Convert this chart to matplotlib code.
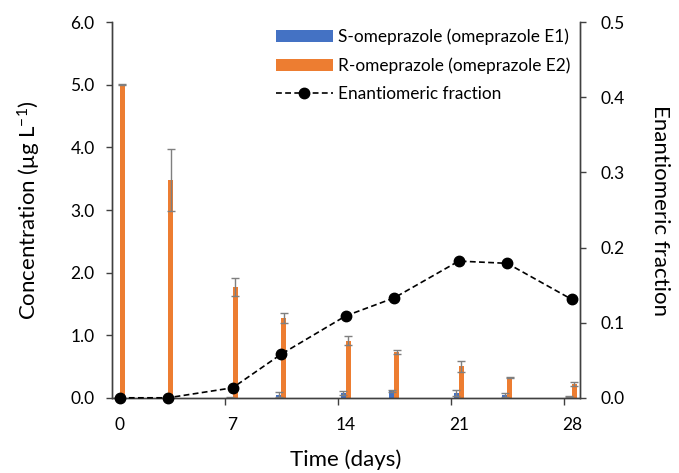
import numpy as np
import matplotlib
matplotlib.use("Agg")
import matplotlib.pyplot as plt
from matplotlib.ticker import FixedLocator

plt.rcParams['font.family'] = ['Lato', 'DejaVu Sans']

# data
days = [0, 3, 7, 10, 14, 17, 21, 24, 28]
s_ome = [0.0, 0.0, 0.01, 0.05, 0.08, 0.11, 0.08, 0.05, 0.02]
s_err = [0.0, 0.0, 0.01, 0.045, 0.03, 0.01, 0.045, 0.03, 0.01]
r_ome = [5.01, 3.48, 1.77, 1.27, 0.91, 0.735, 0.50, 0.32, 0.22]
r_err = [0.01, 0.50, 0.15, 0.08, 0.07, 0.03, 0.08, 0.01, 0.025]
ef = [0.0, 0.0, 0.0133, 0.058, 0.109, 0.133, 0.182, 0.179, 0.131]

blue = '#4472C4'
orange = '#ED7D31'
errc = '#7F7F7F'
axc = '#404040'

fig = plt.figure(figsize=(6.79, 4.73), dpi=100)
ax = fig.add_axes([0.165, 0.159, 0.689, 0.794])
ax2 = ax.twinx()

d = np.array(days)
w = 0.32
ax.bar(d - w, s_ome, w, align='edge', color=blue, label='S-omeprazole (omeprazole E1)', zorder=2)
ax.bar(d, r_ome, w, align='edge', color=orange, label='R-omeprazole (omeprazole E2)', zorder=2)
ax.errorbar(d - w / 2, s_ome, yerr=s_err, fmt='none', ecolor=errc, elinewidth=1, capsize=2.8, capthick=1, zorder=3)
ax.errorbar(d + w / 2, r_ome, yerr=r_err, fmt='none', ecolor=errc, elinewidth=1, capsize=2.8, capthick=1, zorder=3)

ax2.plot(days, ef, 'k--', marker='o', markersize=7.5, linewidth=1.2, dashes=(3.5, 2),
         label='Enantiomeric fraction', zorder=4, clip_on=False)

ax.set_xlim(-0.47, 28.5)
ax.set_ylim(0, 6)
ax2.set_ylim(0, 0.5)

ax.set_yticks(np.arange(0, 6.01, 1.0))
ax.set_yticklabels(['%.1f' % v for v in np.arange(0, 6.01, 1.0)])
ax2.set_yticks(np.arange(0, 0.51, 0.1))
ax2.set_yticklabels(['%.1f' % v for v in np.arange(0, 0.51, 0.1)])

ax.set_xticks([0, 7, 14, 21, 28])
ax.set_xticklabels(['0', '7', '14', '21', '28'])
ax.xaxis.set_minor_locator(FixedLocator([7 * k - 0.47 for k in range(1, 5)]))
ax.tick_params(axis='x', which='major', length=0, pad=13.5, labelsize=12.5, colors='#000000')
ax.tick_params(axis='x', which='minor', length=5, width=1, direction='out', color=axc)
ax.tick_params(axis='y', length=4.5, width=1, direction='out', pad=8, labelsize=12.5, color=axc)
ax2.tick_params(axis='y', length=4.5, width=1, direction='out', pad=10, labelsize=12.5, color=axc)

for a in (ax, ax2):
    a.spines['top'].set_visible(False)
    for s in ('left', 'right', 'bottom'):
        a.spines[s].set_color(axc)
        a.spines[s].set_linewidth(1)

ax.set_xlabel('Time (days)', fontsize=16, labelpad=12)
ax.set_ylabel('Concentration (μg L$\\mathregular{^{-1}}$)', fontsize=16, labelpad=20)
ax2.set_ylabel('Enantiomeric fraction', fontsize=16, rotation=270, labelpad=33)

h1, l1 = ax.get_legend_handles_labels()
h2, l2 = ax2.get_legend_handles_labels()
ax2.legend(h1 + h2, l1 + l2, loc='upper left', bbox_to_anchor=(0.317, 1.025), frameon=False,
           fontsize=12.4, handlelength=3.3, handletextpad=0.3, labelspacing=0.72)

fig.savefig('out.png', dpi=100)
